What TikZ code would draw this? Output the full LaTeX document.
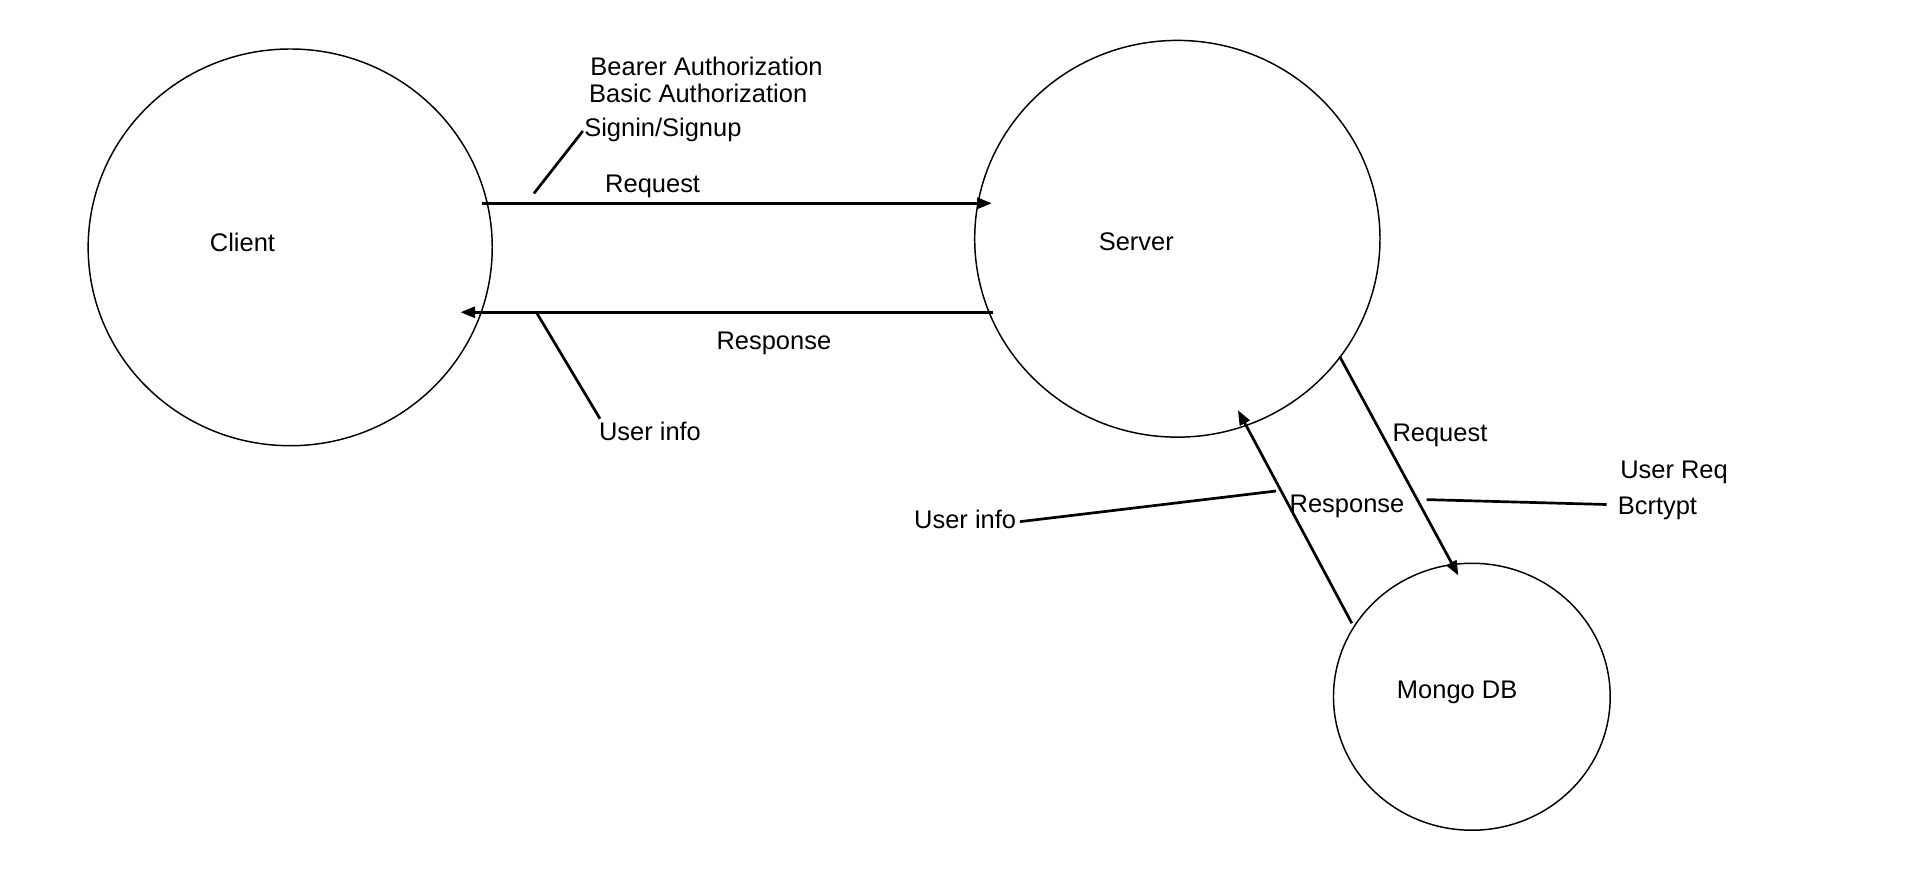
\documentclass[tikz,border=0pt]{standalone}
\usepackage{fontspec}
\setmainfont{Liberation Sans}
\usetikzlibrary{arrows.meta}
\begin{document}
\begin{tikzpicture}[x=1pt,y=-1pt,
  bubble/.style={draw,line width=1.2pt},
  lbl/.style={inner sep=0pt,font=\fontsize{20.8}{25}\selectfont},
  flow/.style={line width=2.5pt,-{Triangle[length=12pt,width=9pt]}},
  sflow/.style={line width=2.2pt,-{Triangle[length=12pt,width=9pt]}},
  lead/.style={line width=2.2pt}]
\useasboundingbox[fill=white] (0,0) rectangle (1568,710.5);
% circles
\draw[bubble] (237,202) ellipse [x radius=165, y radius=162];
\draw[bubble] (961.5,195) ellipse [x radius=165.5, y radius=162];
\draw[bubble] (1202,569) ellipse [x radius=113, y radius=109];
% labels
\node[lbl,anchor=base] (client) at (198,205.5) {Client};
\node[lbl,anchor=base] (server) at (928,204.5) {Server};
\node[lbl,anchor=base] (mongo) at (1190,570.5) {Mongo DB};
\node[lbl,anchor=base west] (bearer) at (482,62) {Bearer Authorization};
\node[lbl,anchor=base west] (basic) at (481,84) {Basic Authorization};
\node[lbl,anchor=base west] (signin) at (477,111.5) {Signin/Signup};
\node[lbl,anchor=base] (req1) at (533,157.5) {Request};
\node[lbl,anchor=base] (resp1) at (632,285.5) {Response};
\node[lbl,anchor=base west] (uinfo1) at (489,359.5) {User info};
\node[lbl,anchor=base west] (req2) at (1137,360.5) {Request};
\node[lbl,anchor=base west] (ureq) at (1323,390.5) {User Req};
\node[lbl,anchor=base west] (resp2) at (1053,418.5) {Response};
\node[lbl,anchor=base west] (bcr) at (1321,420.5) {Bcrtypt};
\node[lbl,anchor=base east] (uinfo2) at (830,431.5) {User info};
% connector end points
\coordinate (c1) at (394,166);
\coordinate (s1) at (810,166);
\coordinate (s2) at (811,255);
\coordinate (c2) at (376,255);
\coordinate (s3) at (1094,291);
\coordinate (m3) at (1191,470);
\coordinate (m4) at (1104,509);
\coordinate (s4) at (1011,335);
\coordinate (l1a) at (436,158);
\coordinate (l1b) at (476,107);
\coordinate (l2a) at (438,255);
\coordinate (l2b) at (490,342);
\coordinate (l3a) at (833,426);
\coordinate (l3b) at (1042,401);
\coordinate (l4a) at (1165,408);
\coordinate (l4b) at (1312,412);
% arrows
\draw[flow] (c1) -- (s1);
\draw[flow] (s2) -- (c2);
\draw[sflow] (s3) -- (m3);
\draw[sflow] (m4) -- (s4);
% leaders
\draw[lead] (l1a) -- (l1b);
\draw[lead] (l2a) -- (l2b);
\draw[lead] (l3a) -- (l3b);
\draw[lead] (l4a) -- (l4b);
\end{tikzpicture}
\end{document}
